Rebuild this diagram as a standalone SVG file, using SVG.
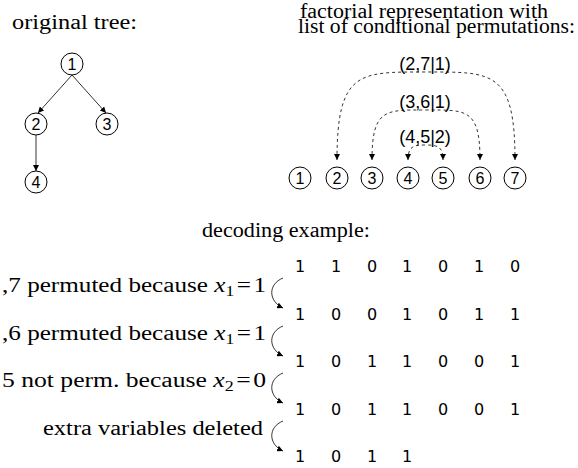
<svg xmlns="http://www.w3.org/2000/svg" width="578" height="468" viewBox="0 0 578 468">
<style>
.serif{font-family:"Liberation Serif","Times New Roman",serif;font-size:20px;fill:#000}
.nl{font-family:"Liberation Sans",Arial,sans-serif;font-size:16px;fill:#000;text-anchor:middle}
.pl{font-family:"Liberation Sans",Arial,sans-serif;font-size:18px;fill:#000;text-anchor:middle}
.dg{font-family:"DejaVu Sans",sans-serif;font-size:16px;fill:#000;text-anchor:middle}
.node circle{fill:#fff;stroke:#000;stroke-width:1}
.edge{fill:none;stroke:#000;stroke-width:0.8}
.dash{fill:none;stroke:#000;stroke-width:0.8;stroke-dasharray:3,3}
</style>
<defs>
<marker id="ah" viewBox="0 0 10 10" refX="10" refY="5" markerWidth="6" markerHeight="6" markerUnits="userSpaceOnUse" orient="auto-start-reverse">
<path d="M0,0 L10,5 L0,10 Z" fill="#000"/>
</marker>
</defs>

<text class="serif" x="12" y="29" textLength="125" lengthAdjust="spacingAndGlyphs">original tree:</text>
<text class="serif" x="300" y="18" textLength="248" lengthAdjust="spacingAndGlyphs">factorial representation with</text>
<text class="serif" x="298" y="33" textLength="277" lengthAdjust="spacingAndGlyphs">list of conditional permutations:</text>
<text class="serif" x="202" y="237" textLength="168" lengthAdjust="spacingAndGlyphs">decoding example:</text>

<g id="tree-edges">
<path class="edge" marker-end="url(#ah)" d="M72,75 L38,113"/>
<path class="edge" marker-end="url(#ah)" d="M72,75 L106,113"/>
<path class="edge" marker-end="url(#ah)" d="M36,135 L36,171"/>
</g>
<g id="t1" class="node"><circle cx="72" cy="64" r="11"/><text class="nl" x="72" y="69.5">1</text></g>
<g id="t2" class="node"><circle cx="36" cy="124" r="11"/><text class="nl" x="36" y="129.5">2</text></g>
<g id="t3" class="node"><circle cx="107" cy="124" r="11"/><text class="nl" x="107" y="129.5">3</text></g>
<g id="t4" class="node"><circle cx="36" cy="182" r="11"/><text class="nl" x="36" y="187.5">4</text></g>

<g id="perm-arcs">
<path class="dash" marker-start="url(#ah)" marker-end="url(#ah)" d="M337,160 C337,70 360,72 426,72 C492,72 515,70 515,160"/>
<path class="dash" marker-start="url(#ah)" marker-end="url(#ah)" d="M372,160 C372,108 386,110 426,110 C466,110 480,108 480,160"/>
<path class="dash" marker-start="url(#ah)" marker-end="url(#ah)" d="M408,160 C408,146 414,145 425.5,145 C437,145 443,146 443,160"/>
</g>
<text class="pl" x="425" y="70">(2,7|1)</text>
<text class="pl" x="425" y="108">(3,6|1)</text>
<text class="pl" x="425" y="143">(4,5|2)</text>

<g id="n1" class="node"><circle cx="300" cy="178" r="11"/><text class="nl" x="300" y="183.5">1</text></g>
<g id="n2" class="node"><circle cx="337" cy="178" r="11"/><text class="nl" x="337" y="183.5">2</text></g>
<g id="n3" class="node"><circle cx="372" cy="178" r="11"/><text class="nl" x="372" y="183.5">3</text></g>
<g id="n4" class="node"><circle cx="408" cy="178" r="11"/><text class="nl" x="408" y="183.5">4</text></g>
<g id="n5" class="node"><circle cx="443" cy="178" r="11"/><text class="nl" x="443" y="183.5">5</text></g>
<g id="n6" class="node"><circle cx="480" cy="178" r="11"/><text class="nl" x="480" y="183.5">6</text></g>
<g id="n7" class="node"><circle cx="515" cy="178" r="11"/><text class="nl" x="515" y="183.5">7</text></g>

<g id="rows" class="dg">
<text x="300" y="272">1</text><text x="336" y="272">1</text><text x="372" y="272">0</text><text x="407" y="272">1</text><text x="443" y="272">0</text><text x="479" y="272">1</text><text x="515" y="272">0</text>
<text x="300" y="320">1</text><text x="336" y="320">0</text><text x="372" y="320">0</text><text x="407" y="320">1</text><text x="443" y="320">0</text><text x="479" y="320">1</text><text x="515" y="320">1</text>
<text x="300" y="367">1</text><text x="336" y="367">0</text><text x="372" y="367">1</text><text x="407" y="367">1</text><text x="443" y="367">0</text><text x="479" y="367">0</text><text x="515" y="367">1</text>
<text x="300" y="415">1</text><text x="336" y="415">0</text><text x="372" y="415">1</text><text x="407" y="415">1</text><text x="443" y="415">0</text><text x="479" y="415">0</text><text x="515" y="415">1</text>
<text x="300" y="462">1</text><text x="336" y="462">0</text><text x="372" y="462">1</text><text x="407" y="462">1</text>
</g>

<g id="steps">
<path class="edge" marker-end="url(#ah)" d="M283,278 C268,284 268,301 283,308"/>
<path class="edge" marker-end="url(#ah)" d="M283,326 C268,332 268,349 283,356"/>
<path class="edge" marker-end="url(#ah)" d="M283,373 C268,379 268,396 283,403"/>
<path class="edge" marker-end="url(#ah)" d="M283,421 C268,427 268,444 283,451"/>
</g>
<text class="serif" x="266" y="292" text-anchor="end" textLength="264" lengthAdjust="spacingAndGlyphs">,7 permuted because <tspan font-style="italic">x</tspan><tspan font-size="14" dy="4">1</tspan><tspan dy="-4" dx="2">=</tspan><tspan dx="2">1</tspan></text>
<text class="serif" x="266" y="340" text-anchor="end" textLength="264" lengthAdjust="spacingAndGlyphs">,6 permuted because <tspan font-style="italic">x</tspan><tspan font-size="14" dy="4">1</tspan><tspan dy="-4" dx="2">=</tspan><tspan dx="2">1</tspan></text>
<text class="serif" x="266" y="387" text-anchor="end" textLength="264" lengthAdjust="spacingAndGlyphs">5 not perm. because <tspan font-style="italic">x</tspan><tspan font-size="14" dy="4">2</tspan><tspan dy="-4" dx="2">=</tspan><tspan dx="2">0</tspan></text>
<text class="serif" x="263" y="435" text-anchor="end" textLength="220" lengthAdjust="spacingAndGlyphs">extra variables deleted</text>
</svg>
